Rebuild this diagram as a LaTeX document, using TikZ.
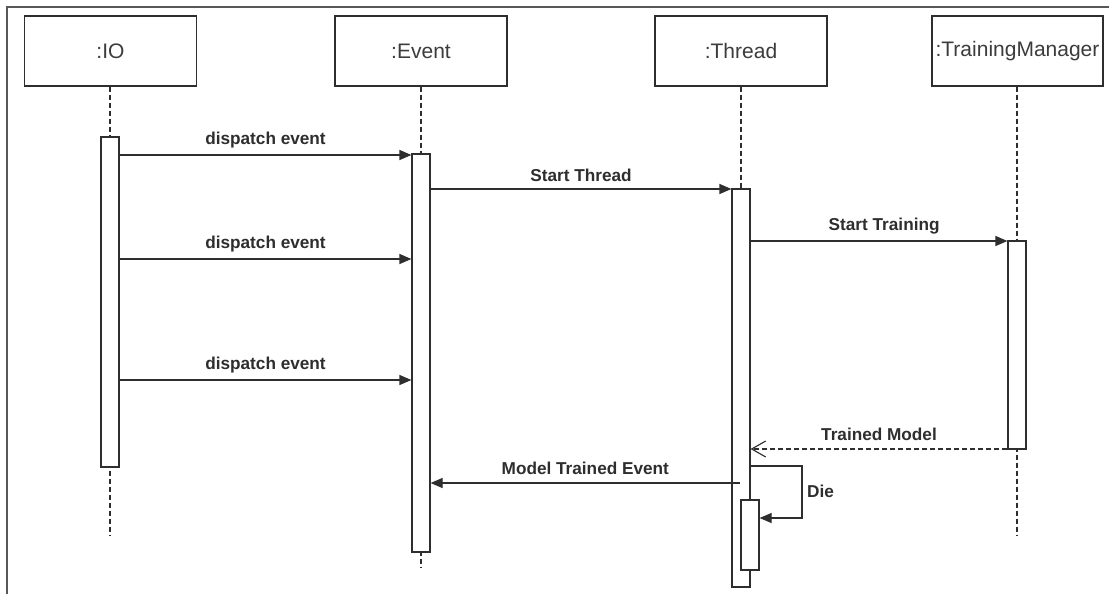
\documentclass[tikz,border=0pt]{standalone}
\usepackage{fontspec}
\setmainfont{Liberation Sans}
\usetikzlibrary{arrows.meta,calc}
\definecolor{ink}{HTML}{2E2E2E}
\definecolor{headtext}{HTML}{3C3C3C}
\tikzset{
  x=1pt, y=-1pt,
  frameline/.style={draw=ink!80, line width=1.3pt},
  objbox/.style={draw=ink, line width=1.2pt, fill=white, inner sep=0pt,
    minimum width=172pt, minimum height=70pt, text=headtext,
    font=\fontsize{21}{24}\selectfont},
  lifeline/.style={draw=ink, line width=1.1pt, dash pattern=on 5pt off 3pt},
  actbox/.style={draw=ink, line width=1.2pt, fill=white, inner sep=0pt,
    minimum width=18pt},
  msg/.style={draw=ink, line width=1.2pt, -{Triangle[length=12pt,width=10pt]}},
  reply/.style={draw=ink, line width=1.1pt, dash pattern=on 5pt off 3pt,
    -{Straight Barb[length=14pt,width=16pt,line width=1.1pt]}},
  msglabel/.style={anchor=base, inner sep=0pt, text=ink,
    font=\fontsize{17.2}{20}\selectfont\bfseries},
}
\begin{document}
\begin{tikzpicture}
\useasboundingbox (0,0) rectangle (1109,594);
\fill[white] (0,0) rectangle (1109,594);

% outer frame (top and left edges)
\coordinate (fTL) at (7,7);
\coordinate (fTR) at (1109,7);
\coordinate (fBL) at (7,594);
\draw[frameline] (fTR) -- (fTL) -- (fBL);

% participant headers
\node[objbox] (io)  at (110.5,51) {:IO};
\node[objbox] (ev)  at (421,51)   {:Event};
\node[objbox] (th)  at (741,51)   {:Thread};
\node[objbox, minimum width=171pt] (tm) at (1017.5,51) {:TrainingManager};

% lifeline ends
\coordinate (ioEnd) at (110,535);
\coordinate (evEnd) at (421,568);
\coordinate (thEnd) at (741,587);
\coordinate (tmEnd) at (1017,535);

\draw[lifeline] (io.south -| ioEnd) -- (ioEnd);
\draw[lifeline] (ev.south -| evEnd) -- (evEnd);
\draw[lifeline] (th.south -| thEnd) -- (thEnd);
\draw[lifeline] (tm.south -| tmEnd) -- (tmEnd);

% activation bars
\node[actbox, minimum height=330pt] (ioAct) at (110,302) {};
\node[actbox, minimum height=398pt] (evAct) at (421,353) {};
\node[actbox, minimum height=398pt] (thAct) at (741,388) {};
\node[actbox, minimum height=208pt] (tmAct) at (1017,345) {};
\node[actbox, minimum height=70pt]  (dieAct) at (750,535) {};

% messages IO -> Event
\draw[msg] (ioAct.east |- 0,155) -- (evAct.west |- 0,155)
  node[msglabel, pos=0.5, yshift=11pt] {dispatch event};
\draw[msg] (ioAct.east |- 0,259) -- (evAct.west |- 0,259)
  node[msglabel, pos=0.5, yshift=11pt] {dispatch event};
\draw[msg] (ioAct.east |- 0,380) -- (evAct.west |- 0,380)
  node[msglabel, pos=0.5, yshift=11pt] {dispatch event};

% Event -> Thread
\draw[msg] (evAct.east |- 0,189) -- (thAct.west |- 0,189)
  node[msglabel, pos=0.5, yshift=8pt] {Start Thread};

% Thread -> TrainingManager
\draw[msg] (thAct.east |- 0,241) -- (tmAct.west |- 0,241)
  node[msglabel, pos=0.52, yshift=11pt] {Start Training};

% TrainingManager -> Thread (return)
\draw[reply] (tmAct.west |- 0,449) -- (thAct.east |- 0,449)
  node[msglabel, pos=0.5, yshift=9pt] {Trained Model};

% Thread -> Event
\coordinate (mteStart) at (740,483);
\draw[msg] (mteStart) -- (evAct.east |- mteStart)
  node[msglabel, pos=0.5, yshift=9pt] {Model Trained Event};

% self call on Thread
\coordinate (dieA) at (802,466);
\coordinate (dieB) at (802,518);
\draw[msg] (thAct.east |- dieA) -- (dieA) -- (dieB) -- (dieAct.east |- dieB);
\node[msglabel, anchor=base west] (dieLbl) at (807,497) {Die};

\end{tikzpicture}
\end{document}
